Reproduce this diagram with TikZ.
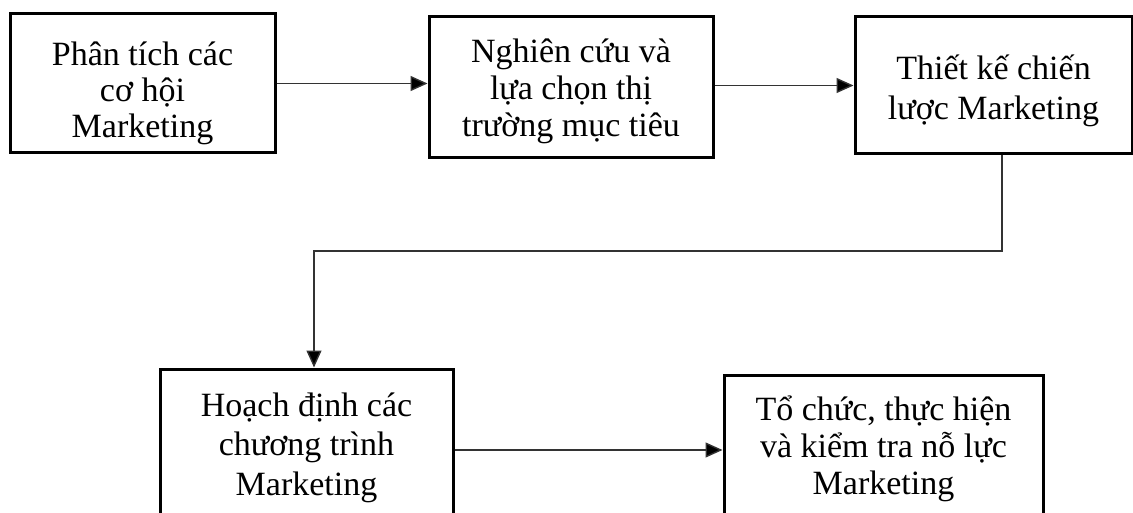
\documentclass[tikz,border=0pt]{standalone}
\usepackage{fontspec}
\setmainfont{Liberation Serif}
\usetikzlibrary{arrows.meta,calc}
\begin{document}
\begin{tikzpicture}[x=1pt,y=-1pt,
  box/.style={draw=black,line width=3pt,inner sep=0pt},
  txt/.style={align=center,inner sep=0pt,anchor=base},
  conn/.style={draw=black!80,line width=1.4pt},
  arr/.style={conn,-{Triangle[length=17pt,width=15pt,fill=black]}}]
\useasboundingbox (0,0) rectangle (1133,513);
\begin{scope}
\clip (0,0) rectangle (1133,513);
\node[box,minimum width=265pt,minimum height=139pt] (b1) at (142.5,83.5) {};
\node[box,minimum width=284pt,minimum height=141pt] (b2) at (571,87.5) {};
\node[box,minimum width=277pt,minimum height=137pt] (b3) at (993.5,85.5) {};
\node[box,minimum width=293pt,minimum height=158pt] (b4) at (306.5,448) {};
\node[box,minimum width=319pt,minimum height=160pt] (b5) at (883.5,455) {};
\node[txt,font=\fontsize{34}{36}\selectfont] (l1) at (142.5,138) {Phân tích các\\cơ hội\\Marketing};
\node[txt,font=\fontsize{34}{37}\selectfont] (l2) at (571,137) {Nghiên cứu và\\lựa chọn thị\\trường mục tiêu};
\node[txt,font=\fontsize{34}{40}\selectfont] (l3) at (993.5,120) {Thiết kế chiến\\lược Marketing};
\node[txt,font=\fontsize{34}{39.5}\selectfont] (l4) at (306.5,495) {Hoạch định các\\chương trình\\Marketing};
\node[txt,font=\fontsize{34}{37}\selectfont] (l5) at (883.5,494) {Tổ chức, thực hiện\\và kiểm tra nỗ lực\\Marketing};
\end{scope}
\coordinate (t1) at (1002,251);
\coordinate (t2) at (314,251);
\coordinate (a45) at (600,450);
\draw[arr] (b1.east) -- (b1.east -| b2.west);
\draw[arr] (b2.east |- b3.west) -- (b3.west);
\draw[arr] (b3.south -| t1) -- (t1) -- (t2) -- (b4.north -| t2);
\draw[arr] (b4.east |- a45) -- (b5.west |- a45);
\end{tikzpicture}
\end{document}
